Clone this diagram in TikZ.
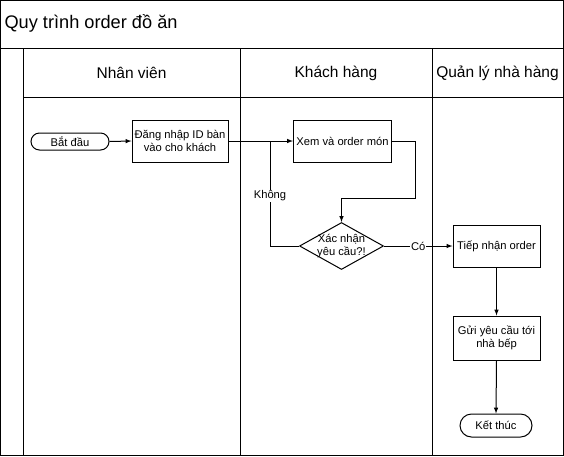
\documentclass[tikz,border=0pt]{standalone}
\usepackage{fontspec}
\setmainfont{Liberation Sans}
\usetikzlibrary{arrows, positioning, shapes, calc}

\begin{document}
\begin{tikzpicture}[
    x=1pt, y=-1pt,
    every node/.style={font=\fontsize{11.2}{12.8}\selectfont},
    frame/.style={draw, line width=1pt},
    lanehead/.style={font=\fontsize{15.5}{17}\selectfont},
    proc/.style={draw, line width=1pt, fill=white, align=center, inner sep=1pt},
    term/.style={proc, rounded corners=8.5pt, minimum height=17pt},
    decide/.style={draw, line width=1pt, fill=white, diamond, aspect=1.8,
                   inner sep=-3pt, minimum width=84pt, minimum height=47pt, align=center},
    lbl/.style={fill=white, inner sep=1pt},
    arr/.style={-latex, line width=1pt},
    flow/.style={line width=1pt},
]
    \useasboundingbox (0,0) rectangle (564,456);

    % Pool and lanes.
    \draw[frame] (0.5,0.5) rectangle (563.5,455.5);
    \draw[frame] (0,48) -- (564,48);
    \draw[frame] (23,97) -- (564,97);
    \draw[frame] (23,48) -- (23,456);
    \draw[frame] (240,48) -- (240,456);
    \draw[frame] (432,48) -- (432,456);

    \node[anchor=west, font=\fontsize{18.2}{20}\selectfont] (title) at (1,23) {Quy trình order đồ ăn};
    \node[lanehead] (laneNV) at (131.5,73) {Nhân viên};
    \node[lanehead] (laneKH) at (336,73) {Khách hàng};
    \node[lanehead] (laneQL) at (497.5,73) {Quản lý nhà hàng};

    % Steps.
    \node[term, minimum width=78pt] (start) at (70,141.5) {Bắt đầu};
    \node[proc, minimum width=96pt, minimum height=42pt] (login) at (180,141)
        {Đăng nhập ID bàn\\vào cho khách};
    \node[proc, minimum width=98pt, minimum height=42pt] (order) at (342.5,141)
        {Xem và order món};
    \node[decide] (confirm) at (341.5,246) {Xác nhận\\yêu cầu?!};
    \node[proc, minimum width=87pt, minimum height=42pt] (receive) at (496.5,246)
        {Tiếp nhận order};
    \node[proc, minimum width=87pt, minimum height=44pt] (send) at (496.5,338)
        {Gửi yêu cầu tới\\nhà bếp};
    \node[term, minimum width=72pt, minimum height=23pt, rounded corners=11.5pt] (finish) at (496,425.5)
        {Kết thúc};

    \coordinate (bendA) at (415,141);
    \coordinate (bendB) at (415,198);
    \coordinate (bendC) at (341.5,198);
    \coordinate (bendD) at (270,246);
    \coordinate (bendE) at (270,141);

    % Flow arrows.
    \draw[arr] (start.east) -- (login.west);
    \draw[arr] (login.east) -- (order.west);
    \draw[arr] (order.east) -- (bendA) -- (bendB) -- (bendC) -- (confirm.north);
    \draw[flow] (confirm.west) -- (bendD) -- (bendE);
    \node[lbl] (no) at (270,196) {Không};
    \draw[arr] (confirm.east) -- (receive.west) node[lbl, midway] (yes) {Có};
    \draw[arr] (receive.south) -- (send.north);
    \draw[arr] (send.south) -- (finish.north);
\end{tikzpicture}
\end{document}
